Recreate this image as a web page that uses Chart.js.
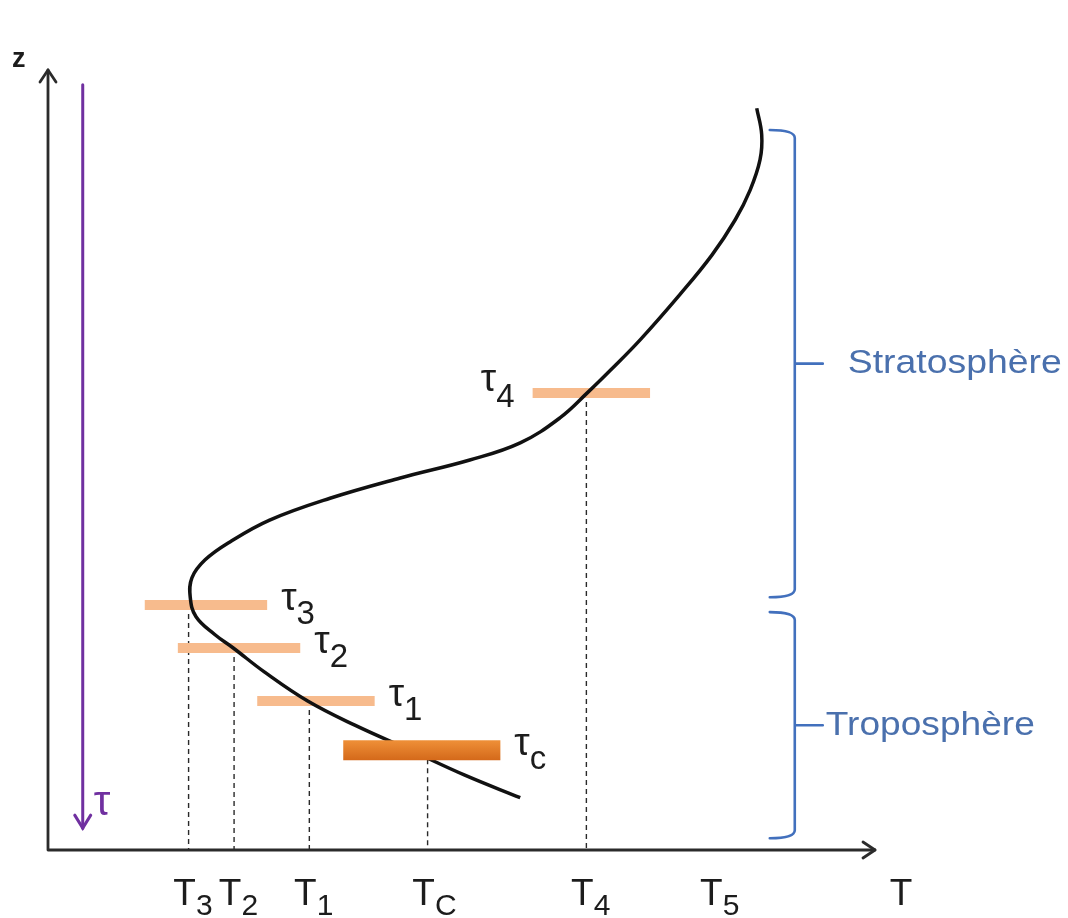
<!DOCTYPE html>
<html>
<head>
<meta charset="utf-8">
<script src="https://cdn.jsdelivr.net/npm/chart.js@4.4.0/dist/chart.umd.min.js"></script>
<style>
  html, body { margin: 0; padding: 0; background: #fff; }
  canvas { display: block; }
</style>
</head>
<body>
<canvas id="profileChart" width="1068" height="918"></canvas>
<script>
// temperature profile T(z), arbitrary units (0-100 on both axes)
const curveT = [85.7, 86.3, 86.1, 84.9, 83.1, 80.3, 76.4, 71.6, 68.0, 65.3, 61.9, 57.1, 51.0, 42.6, 34.1, 26.8, 22.0, 19.0, 17.4, 17.2, 17.9, 20.2, 22.4, 26.2, 31.4, 37.1, 43.8, 50.4, 57.1];
const curveZ = [95.1, 91.7, 88.5, 84.6, 80.8, 76.3, 71.2, 65.4, 61.5, 58.7, 55.4, 52.2, 50.0, 47.7, 45.1, 42.3, 39.5, 37.2, 34.9, 32.4, 29.9, 27.6, 25.9, 22.8, 19.1, 16.0, 12.8, 9.6, 6.7];

// optical depth levels tau_3, tau_2, tau_1, tau_c, tau_4
const levelNames = ['3', '2', '1', 'c', '4'];
const levelZ = [31.4, 25.9, 19.1, 12.8, 58.6];
const levelT = [17.0, 22.5, 31.6, 45.9, 65.1];
const barStart = [11.7, 15.7, 25.3, 35.7, 58.6];
const barEnd = [26.5, 30.5, 39.5, 54.7, 72.8];

// labels under the T axis
const tickSubs = ['3', '2', '1', 'C', '4', '5'];
const tickT = [17.0, 22.5, 31.6, 45.9, 65.1, 80.7];

// atmospheric layers and their z range
const layerNames = ['Stratosphère', 'Troposphère'];
const layerBottom = [32.4, 1.5];
const layerTop = [92.3, 30.5];

const FONT = '"Liberation Sans", Arial, sans-serif';
const BLUE = '#4270bd';
const PURPLE = '#7030a0';
const INK = '#1c1c1c';

function line(data, extra) {
  return Object.assign({
    data: data,
    showLine: true,
    pointRadius: 0,
    pointHoverRadius: 0,
    fill: false,
    clip: false,
    tension: 0
  }, extra);
}

// orange gradient for the main (tau_c) bar
function mainBarColor(context) {
  const chart = context.chart;
  if (!chart.chartArea) return '#e07b24';
  const y = chart.scales.y.getPixelForValue(levelZ[3]);
  const g = chart.ctx.createLinearGradient(0, y - 10, 0, y + 10);
  g.addColorStop(0, '#ef9038');
  g.addColorStop(1, '#d4691a');
  return g;
}

const datasets = [];
datasets.push(line(curveT.map((t, i) => ({ x: t, y: curveZ[i] })), {
  borderColor: '#111', borderWidth: 3.5, tension: 0.4, order: 2
}));
levelNames.forEach((name, i) => {
  datasets.push(line([{ x: levelT[i], y: levelZ[i] }, { x: levelT[i], y: 0 }], {
    borderColor: '#2a2a2a', borderWidth: 1.4, borderDash: [5, 4], order: 4
  }));
  const main = name === 'c';
  datasets.push(line([{ x: barStart[i], y: levelZ[i] }, { x: barEnd[i], y: levelZ[i] }], {
    borderColor: main ? mainBarColor : '#f7bb8d',
    borderWidth: main ? 20 : 10,
    borderCapStyle: 'butt',
    order: main ? 1 : 3
  }));
});

function textWidth(ctx, s, size) {
  ctx.font = size + 'px ' + FONT;
  return ctx.measureText(s).width;
}
// base text followed by a subscript
function drawSub(ctx, base, sub, x, y, size, subSize, drop) {
  ctx.textAlign = 'left';
  ctx.textBaseline = 'alphabetic';
  ctx.font = size + 'px ' + FONT;
  ctx.fillText(base, x, y);
  const w = ctx.measureText(base).width;
  ctx.font = subSize + 'px ' + FONT;
  ctx.fillText(sub, x + w, y + drop);
}

function arrowHead(ctx, x, y, dx, dy, len, spread) {
  // chevron pointing in direction (dx, dy)
  const px = -dy, py = dx;
  ctx.beginPath();
  ctx.moveTo(x - dx * len + px * spread, y - dy * len + py * spread);
  ctx.lineTo(x, y);
  ctx.lineTo(x - dx * len - px * spread, y - dy * len - py * spread);
  ctx.stroke();
}

const diagramDecor = {
  id: 'diagramDecor',
  beforeDatasetsDraw(chart) {
    const ctx = chart.ctx;
    const a = chart.chartArea;
    ctx.save();
    ctx.strokeStyle = '#2b2b2b';
    ctx.lineWidth = 2.8;
    ctx.lineCap = 'round';
    ctx.lineJoin = 'round';
    ctx.beginPath();
    ctx.moveTo(a.left, a.top);
    ctx.lineTo(a.left, a.bottom);
    ctx.lineTo(a.right, a.bottom);
    ctx.stroke();
    arrowHead(ctx, a.left, a.top, 0, -1, 12, 8);
    arrowHead(ctx, a.right, a.bottom, 1, 0, 12, 8);
    ctx.restore();
  },
  afterDatasetsDraw(chart) {
    const ctx = chart.ctx;
    const xs = chart.scales.x, ys = chart.scales.y;
    const a = chart.chartArea;
    ctx.save();

    // axis names
    ctx.fillStyle = INK;
    ctx.font = 'bold 27px ' + FONT;
    ctx.textAlign = 'left';
    ctx.textBaseline = 'alphabetic';
    ctx.fillText('z', 12, 67);
    ctx.font = '37px ' + FONT;
    ctx.textAlign = 'center';
    ctx.fillText('T', a.right + 26, 905);

    // T labels under the axis
    tickT.forEach((t, i) => {
      const w = textWidth(ctx, 'T', 37);
      drawSub(ctx, 'T', tickSubs[i], xs.getPixelForValue(t) - 4 - w / 2, 905, 37, 30, 10);
    });

    // tau labels next to the bars
    levelNames.forEach((name, i) => {
      const y = ys.getPixelForValue(levelZ[i]);
      if (name === '4') {
        const w = textWidth(ctx, 'τ', 39) + textWidth(ctx, name, 33);
        drawSub(ctx, 'τ', name, xs.getPixelForValue(barStart[i]) - w - 18, y - 2, 39, 33, 16);
      } else {
        drawSub(ctx, 'τ', name, xs.getPixelForValue(barEnd[i]) + 14, y + 5, 39, 33, 14);
      }
    });

    // optical depth arrow
    ctx.strokeStyle = PURPLE;
    ctx.fillStyle = PURPLE;
    ctx.lineWidth = 3;
    ctx.lineCap = 'round';
    const tx = xs.getPixelForValue(4.2);
    const ty0 = ys.getPixelForValue(98.1), ty1 = ys.getPixelForValue(2.8);
    ctx.beginPath();
    ctx.moveTo(tx, ty0);
    ctx.lineTo(tx, ty1);
    ctx.stroke();
    arrowHead(ctx, tx, ty1, 0, 1, 13, 8);
    ctx.font = '42px ' + FONT;
    ctx.textAlign = 'left';
    ctx.fillText('τ', tx + 11, ty1 - 13);

    // layer brackets
    const bx = xs.getPixelForValue(90.3);
    ctx.strokeStyle = BLUE;
    ctx.lineWidth = 2.6;
    ctx.lineJoin = 'round';
    layerNames.forEach((name, i) => {
      const top = ys.getPixelForValue(layerTop[i]);
      const bot = ys.getPixelForValue(layerBottom[i]);
      const mid = (top + bot) / 2;
      ctx.beginPath();
      ctx.moveTo(bx - 25, top);
      ctx.quadraticCurveTo(bx, top, bx, top + 8);
      ctx.lineTo(bx, bot - 8);
      ctx.quadraticCurveTo(bx, bot, bx - 25, bot);
      ctx.moveTo(bx, mid);
      ctx.lineTo(bx + 28, mid);
      ctx.stroke();

      ctx.fillStyle = '#4a70ad';
      ctx.font = '34px ' + FONT;
      ctx.textBaseline = 'middle';
      const target = i === 0 ? 214 : 209;
      const left = bx + (i === 0 ? 53 : 31);
      const sx = target / ctx.measureText(name).width;
      ctx.save();
      ctx.translate(left, mid);
      ctx.scale(sx, 1);
      ctx.fillText(name, 0, 0);
      ctx.restore();
    });

    ctx.restore();
  }
};

new Chart(document.getElementById('profileChart'), {
  type: 'scatter',
  data: { datasets: datasets },
  options: {
    responsive: false,
    animation: false,
    events: [],
    layout: { padding: { left: 48, right: 193, top: 70, bottom: 68 } },
    scales: {
      x: { type: 'linear', min: 0, max: 100, display: false },
      y: { type: 'linear', min: 0, max: 100, display: false }
    },
    plugins: {
      legend: { display: false },
      tooltip: { enabled: false }
    }
  },
  plugins: [diagramDecor]
});
</script>
</body>
</html>
